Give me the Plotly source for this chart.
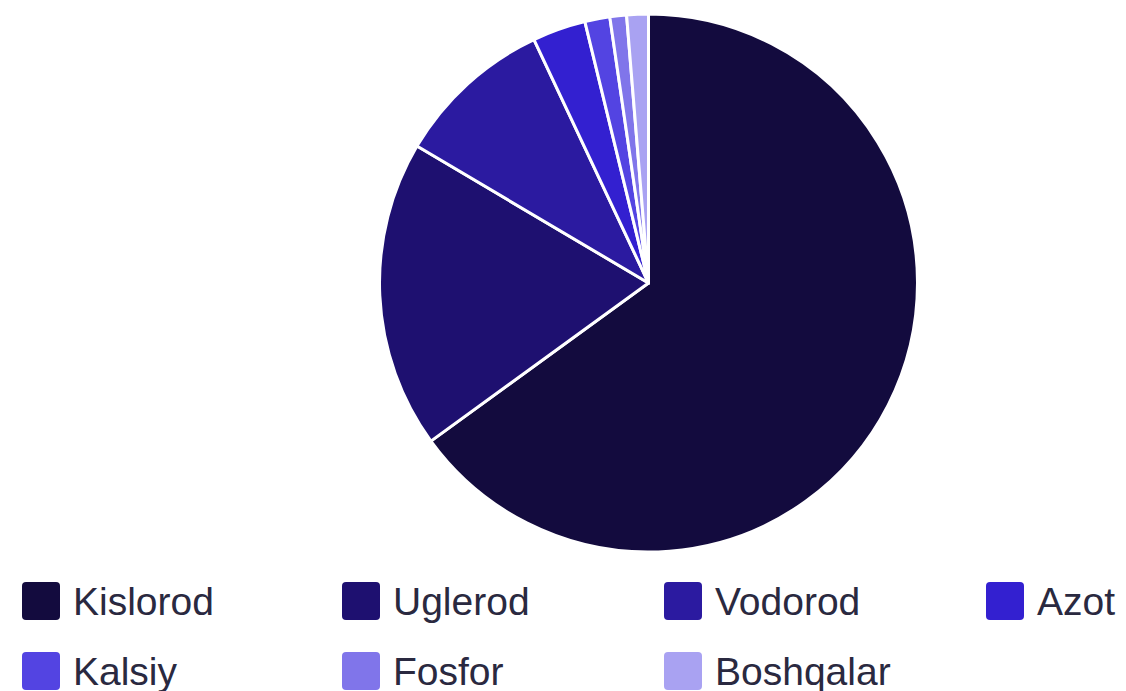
import plotly.graph_objects as go

labels = ["Kislorod", "Uglerod", "Vodorod", "Azot", "Kalsiy", "Fosfor", "Boshqalar"]
values = [65.0, 18.5, 9.5, 3.2, 1.5, 1.0, 1.3]
colors = ["#130b3e", "#1e1070", "#2b1aa0", "#3320d0", "#5344e2", "#8075ea", "#a9a2f2"]

W, H = 1126, 691
text_color = "#2a2940"

fig = go.Figure()
fig.add_trace(go.Pie(
    labels=labels,
    values=values,
    sort=False,
    direction="clockwise",
    rotation=0,
    marker=dict(colors=colors, line=dict(color="white", width=3)),
    textinfo="none",
    showlegend=False,
    domain=dict(x=[379.5 / W, 917.5 / W], y=[1 - 552 / H, 1 - 14 / H]),
))

# custom legend (4 columns)
col_x = [22, 342, 664, 986]
row_y = [582, 652]
sq = 38
r = 4
shapes = []
annotations = []
for i, (lab, col) in enumerate(zip(labels, colors)):
    cx = col_x[i % 4]
    cy = row_y[i // 4]
    x0, x1 = cx / W, (cx + sq) / W
    y1, y0 = 1 - cy / H, 1 - (cy + sq) / H
    rx, ry = r / W, r / H
    path = (f"M {x0+rx},{y1} L {x1-rx},{y1} Q {x1},{y1} {x1},{y1-ry} "
            f"L {x1},{y0+ry} Q {x1},{y0} {x1-rx},{y0} L {x0+rx},{y0} "
            f"Q {x0},{y0} {x0},{y0+ry} L {x0},{y1-ry} Q {x0},{y1} {x0+rx},{y1} Z")
    shapes.append(dict(type="path", xref="paper", yref="paper", path=path,
                       fillcolor=col, line=dict(width=0)))
    annotations.append(dict(
        x=(cx + 49) / W, y=1 - (cy + sq / 2) / H, xref="paper", yref="paper",
        xanchor="left", yanchor="middle", showarrow=False, text=lab,
        font=dict(family="Liberation Sans, Arial, sans-serif", size=39, color=text_color),
    ))

fig.update_layout(
    width=W, height=H,
    margin=dict(l=0, r=0, t=0, b=0),
    paper_bgcolor="white",
    plot_bgcolor="white",
    shapes=shapes,
    annotations=annotations,
)

fig.write_html("out.html", config={"displayModeBar": False},
               post_script="document.body.style.margin='0px';")
